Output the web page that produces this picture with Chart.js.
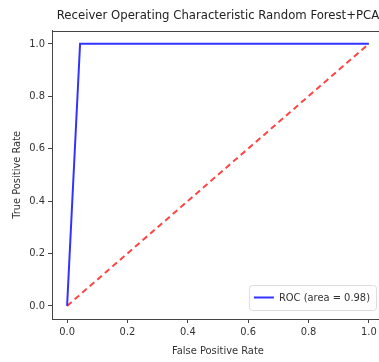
<!DOCTYPE html>
<html>
<head>
<meta charset="utf-8">
<script src="https://cdn.jsdelivr.net/npm/chart.js@4/dist/chart.umd.min.js"></script>
<style>
  html, body { margin: 0; padding: 0; background: #fff; overflow: hidden; }
  #wrap { width: 379px; height: 362px; overflow: hidden; }
</style>
</head>
<body>
<div id="wrap"><canvas id="roc" width="436" height="362"></canvas></div>
<script>
// ROC data
const fpr = [0, 0.043, 1];
const tpr = [0, 1, 1];
const chanceX = [0, 1];
const chanceY = [0, 1];
const tickValues = [0, 0.2, 0.4, 0.6, 0.8, 1.0];
const rocLabel = "ROC (area = 0.98)";

const FONT = "'DejaVu Sans Condensed', 'DejaVu Sans', sans-serif";
Chart.defaults.font.family = FONT;
Chart.defaults.color = "#333";

// full box round the plot (matplotlib spines)
const frame = {
    id: "frame",
    afterDatasetsDraw(chart) {
        const { ctx, chartArea: a } = chart;
        ctx.save();
        ctx.strokeStyle = "#444";
        ctx.lineWidth = 1;
        ctx.strokeRect(Math.round(a.left) + 0.5, Math.round(a.top) + 0.5,
            Math.round(a.right - a.left), Math.round(a.bottom - a.top));
        ctx.restore();
    },
};

// legend drawn inside the plot, lower right, like matplotlib
const innerLegend = {
    id: "innerLegend",
    afterDraw(chart) {
        const { ctx, chartArea } = chart;
        ctx.save();
        ctx.font = "11px " + FONT;
        const tw = ctx.measureText(rocLabel).width;
        const w = tw + 36;
        const h = 25;
        const x = chartArea.right - 8 - w;
        const y = chartArea.bottom - 9 - h;
        ctx.fillStyle = "rgba(255,255,255,0.9)";
        ctx.strokeStyle = "#ddd";
        ctx.lineWidth = 1;
        ctx.beginPath();
        ctx.roundRect(x + 0.5, y + 0.5, w, h, 3);
        ctx.fill();
        ctx.stroke();
        ctx.strokeStyle = "#3333ff";
        ctx.lineWidth = 2;
        ctx.beginPath();
        ctx.moveTo(x + 5, y + h / 2);
        ctx.lineTo(x + 25, y + h / 2);
        ctx.stroke();
        ctx.fillStyle = "#333";
        ctx.textBaseline = "middle";
        ctx.fillText(rocLabel, x + 30, y + h / 2 + 1);
        ctx.restore();
    },
};

const fixedTicks = (scale) => {
    scale.ticks = tickValues.map((v) => ({ value: v }));
};

const axis = (title, isY) => ({
    type: "linear",
    min: -0.05,
    max: 1.05,
    afterBuildTicks: fixedTicks,
    afterFit: (s) => {
        if (isY) s.width = 52;
        else s.height = 43;
    },
    grid: {
        drawOnChartArea: false,
        tickLength: 4,
        tickColor: "#444",
    },
    border: { color: "#444", width: 1 },
    ticks: {
        padding: 3,
        font: { size: 11 },
        color: "#333",
        callback: (v) => Number(v).toFixed(1),
    },
    title: {
        display: true,
        text: title,
        font: { size: 11 },
        color: "#333",
        padding: isY ? { top: 11, bottom: 0 } : { top: 7, bottom: 4 },
    },
});

new Chart(document.getElementById("roc"), {
    type: "scatter",
    data: {
        datasets: [
            {
                label: rocLabel,
                data: fpr.map((x, i) => ({ x, y: tpr[i] })),
                showLine: true,
                borderColor: "#3333ff",
                borderWidth: 2,
                pointRadius: 0,
                tension: 0,
            },
            {
                label: "chance",
                data: chanceX.map((x, i) => ({ x, y: chanceY[i] })),
                showLine: true,
                borderColor: "#ff4444",
                borderWidth: 2,
                borderDash: [6, 4],
                pointRadius: 0,
            },
        ],
    },
    options: {
        responsive: false,
        animation: false,
        devicePixelRatio: 1,
        layout: { padding: { left: 0, right: 52, top: 0, bottom: 0 } },
        plugins: {
            legend: { display: false },
            tooltip: { enabled: false },
            title: {
                display: true,
                fullSize: false,
                text: "Receiver Operating Characteristic Random Forest+PCA",
                font: { size: 13, weight: "normal" },
                color: "#222",
                padding: { top: 8, bottom: 7 },
            },
        },
        scales: {
            x: axis("False Positive Rate", false),
            y: axis("True Positive Rate", true),
        },
    },
    plugins: [frame, innerLegend],
});
</script>
</body>
</html>
